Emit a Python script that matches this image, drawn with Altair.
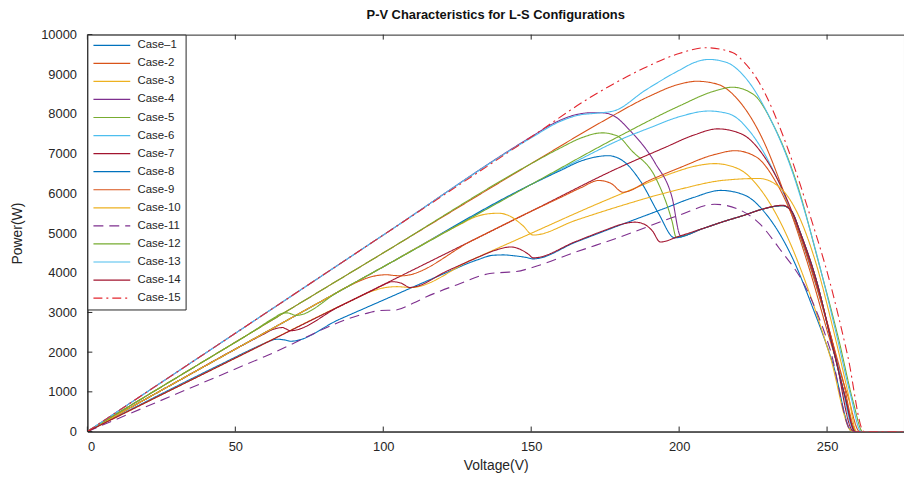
import altair as alt
import pandas as pd

CASES = [f"Case-{i}" for i in range(1, 16)]
CASES[0] = "Case\u20131"
COLORS = ["#0072BD", "#D95319", "#EDB120", "#7E2F8E", "#77AC30", "#4DBEEE", "#A2142F",
          "#0072BD", "#D95319", "#EDB120", "#7E2F8E", "#77AC30", "#4DBEEE", "#A2142F", "#E3262E"]
DASHES = [[1, 0]] * 10 + [[10, 6]] + [[1, 0]] * 3 + [[9, 4, 2, 4]]

X_TICKS = [0, 50, 100, 150, 200, 250]
Y_TICKS = [0, 1000, 2000, 3000, 4000, 5000, 6000, 7000, 8000, 9000, 10000]

C1_V = [0, 45, 58, 61, 64, 66.5, 68.8, 85, 100, 120, 132, 137, 140.6, 144, 148, 150.7, 165, 180, 195, 205, 214, 222, 230, 238, 245, 252, 258.5, 276]
C1_P = [0, 1690, 2160, 2260, 2325, 2310, 2275, 2820, 3310, 3960, 4330, 4440, 4450, 4430, 4390, 4350, 4770, 5200, 5620, 5900, 6075, 5960, 5420, 4420, 3150, 1700, 0, 0]

C2_V = [0, 50, 100, 150, 175, 190, 200, 206, 213, 220, 228, 236, 244, 251, 257, 261, 276]
C2_P = [0, 2250, 4500, 6750, 7850, 8450, 8750, 8825, 8750, 8350, 7400, 5900, 4100, 2300, 900, 0, 0]

C3_V = [0, 50, 88, 96, 101, 104.7, 107, 109, 130, 150, 170, 185, 198, 205, 212, 220, 228, 236, 244, 251, 258.5, 276]
C3_P = [0, 1850, 3255, 3530, 3630, 3650, 3640, 3625, 4330, 4995, 5660, 6130, 6520, 6680, 6750, 6620, 6050, 5000, 3500, 1900, 0, 0]

C4_V = [0, 50, 100, 150, 158, 164, 170, 174, 178, 183.5, 192, 197.6, 200.5, 208, 215, 222, 228, 235, 238, 241, 246.6, 252, 256, 259.5, 276]
C4_P = [0, 2475, 4950, 7425, 7780, 7960, 8030, 8030, 7950, 7575, 6750, 5900, 4930, 5110, 5290, 5450, 5600, 5690, 5550, 5000, 3750, 2100, 900, 0, 0]

C5_V = [0, 50, 100, 150, 160, 167, 174, 179, 184, 192, 197.6, 199, 208, 215, 222, 228, 235, 238, 241, 246.6, 252, 256, 259.5, 276]
C5_P = [0, 2250, 4500, 6750, 7150, 7400, 7525, 7450, 7075, 6400, 5300, 4900, 5115, 5290, 5450, 5600, 5690, 5550, 5000, 3750, 2100, 900, 0, 0]

C6_V = [0, 50, 100, 150, 165, 180, 190, 200, 210, 217, 224, 232, 240, 247, 253, 259.5, 276]
C6_P = [0, 2075, 4150, 6225, 6800, 7350, 7650, 7930, 8075, 8000, 7550, 6550, 5100, 3500, 1900, 0, 0]

C7_V = [0, 30, 52, 59, 63, 66, 67, 68.5, 85, 100, 150, 180, 195, 205, 213, 221, 229, 237, 245, 252, 259, 276]
C7_P = [0, 1245, 2158, 2430, 2580, 2620, 2590, 2540, 3145, 3700, 5550, 6660, 7150, 7470, 7625, 7500, 6900, 5750, 4050, 2200, 0, 0]

C8_V = [0, 50, 100, 150, 160, 167, 172, 176, 181, 187, 193, 198.5, 208, 215, 222, 228, 235, 238, 241, 246.6, 252, 256, 259.5, 276]
C8_P = [0, 2075, 4150, 6225, 6580, 6820, 6920, 6950, 6820, 6300, 5500, 4880, 5115, 5290, 5450, 5600, 5690, 5550, 5000, 3750, 2100, 900, 0, 0]

C9_V = [0, 50, 80, 90, 96, 101, 104, 106, 130, 150, 160, 167, 172.8, 177, 181, 190, 200, 212, 219, 226, 233, 241, 249, 255, 260, 276]
C9_P = [0, 2075, 3320, 3725, 3900, 3950, 3930, 3922, 4810, 5550, 5900, 6150, 6325, 6250, 6030, 6330, 6640, 6980, 7075, 6920, 6250, 4900, 3000, 1400, 0, 0]

C10_V = [0, 50, 100, 125, 132, 136, 139, 143, 147, 150.7, 165, 180, 200, 215, 227, 234, 240, 246, 252, 257, 260, 276]
C10_P = [0, 2075, 4150, 5180, 5430, 5490, 5500, 5420, 5200, 4950, 5320, 5680, 6100, 6330, 6375, 6150, 5500, 4300, 2600, 1000, 0, 0]

C11_V = [0, 30, 60, 95, 99, 104, 110, 114.8, 125, 136, 141, 145, 150, 165, 180, 200, 212, 220, 227, 234, 243, 251, 258.4, 276]
C11_P = [0, 945, 1890, 2990, 3050, 3060, 3230, 3400, 3700, 3980, 4010, 4030, 4125, 4520, 4900, 5450, 5725, 5600, 5250, 4600, 3600, 2075, 0, 0]

C12_V = [0, 40, 55, 63, 66, 67.5, 69, 70.5, 85, 100, 150, 180, 200, 212, 218, 225, 232, 240, 247, 254, 259, 262, 276]
C12_P = [0, 1800, 2475, 2860, 2980, 2990, 2960, 2925, 3530, 4150, 6225, 7450, 8200, 8580, 8675, 8500, 7700, 6200, 4300, 2300, 700, 0, 0]

C13_V = [0, 50, 100, 150, 160, 166, 172, 178, 188.6, 200, 206, 210, 216, 222, 230, 238, 246, 253, 258, 261.5, 276]
C13_P = [0, 2475, 4950, 7400, 7820, 7970, 8020, 8080, 8600, 9100, 9320, 9375, 9300, 8950, 8000, 6600, 4600, 2500, 900, 0, 0]

C14_V = [0, 50, 88, 97, 100, 103, 106, 109, 122, 132, 138, 143, 146, 149, 150.7, 165, 175, 181, 185, 188, 191, 193.6, 200, 208, 215, 222, 228, 235, 238, 241, 246.6, 252, 256, 259.5, 276]
C14_P = [0, 1850, 3255, 3580, 3690, 3775, 3740, 3630, 4060, 4390, 4570, 4650, 4600, 4470, 4375, 4785, 5075, 5230, 5275, 5230, 5050, 4775, 4920, 5115, 5290, 5450, 5600, 5700, 5550, 5000, 3750, 2100, 900, 0, 0]

C15_V = [0, 50, 100, 150, 170, 188, 200, 209, 218, 222, 227, 237, 244, 251, 257, 262.5, 276]
C15_P = [0, 2475, 4950, 7420, 8420, 9150, 9525, 9670, 9550, 9300, 8800, 7075, 5500, 3750, 1900, 0, 0]

SERIES = [(C1_V, C1_P), (C2_V, C2_P), (C3_V, C3_P), (C4_V, C4_P), (C5_V, C5_P),
          (C6_V, C6_P), (C7_V, C7_P), (C8_V, C8_P), (C9_V, C9_P), (C10_V, C10_P),
          (C11_V, C11_P), (C12_V, C12_P), (C13_V, C13_P), (C14_V, C14_P), (C15_V, C15_P)]

FONT = "Liberation Sans"
AX = "#262626"
W, H = 823, 400

xs = alt.Scale(domain=[0, 276], nice=False, zero=False)
ys = alt.Scale(domain=[0, 10000], nice=False)
cscale = alt.Scale(domain=CASES, range=COLORS)
dscale = alt.Scale(domain=CASES, range=DASHES)

X_AXIS = alt.Axis(values=X_TICKS, title="Voltage(V)", grid=False, ticks=False,
                  labelPadding=9, titlePadding=5, labelOverlap=False)
Y_AXIS = alt.Axis(values=Y_TICKS, title="Power(W)", grid=False, format="d", ticks=False,
                  labelPadding=11, titlePadding=16, labelOverlap=False)

layers = []
for name, (v, p) in zip(CASES, SERIES):
    df = pd.DataFrame({"V": v, "P": p, "case": name})
    layers.append(
        alt.Chart(df).mark_line(interpolate="monotone", strokeWidth=1.1, clip=True).encode(
            x=alt.X("V:Q", scale=xs, axis=X_AXIS),
            y=alt.Y("P:Q", scale=ys, axis=Y_AXIS),
            color=alt.Color("case:N", scale=cscale, title=None,
                            legend=alt.Legend(orient="none", legendX=0, legendY=0,
                                              symbolType="M-1,0H7", symbolSize=86, symbolStrokeWidth=1.2,
                                              labelFontSize=11.5, labelFont=FONT, labelColor=AX,
                                              fillColor="white", strokeColor=AX, padding=5,
                                              rowPadding=5.2, labelOffset=34)),
            strokeDash=alt.StrokeDash("case:N", scale=dscale, title=None),
        )
    )

xt = pd.DataFrame({"V": X_TICKS})
yt = pd.DataFrame({"P": Y_TICKS})
tick_bottom = alt.Chart(xt).mark_rule(color=AX, strokeWidth=1).encode(
    x=alt.X("V:Q", scale=xs, axis=X_AXIS), y=alt.value(H), y2=alt.value(H - 5))
tick_top = alt.Chart(xt).mark_rule(color=AX, strokeWidth=1).encode(
    x=alt.X("V:Q", scale=xs, axis=X_AXIS), y=alt.value(0), y2=alt.value(5))
tick_left = alt.Chart(yt).mark_rule(color=AX, strokeWidth=1).encode(
    y=alt.Y("P:Q", scale=ys, axis=Y_AXIS), x=alt.value(0), x2=alt.value(5))

chart = alt.layer(*layers, tick_bottom, tick_top, tick_left).properties(
    width=W, height=H,
    background="white",
    title=alt.TitleParams("P-V Characteristics for L-S Configurations", font=FONT, fontSize=13,
                          fontWeight="bold", color="#111111", anchor="middle", offset=7),
    autosize=alt.AutoSizeParams(type="none"),
    padding={"left": 80, "top": 25, "right": 0, "bottom": 44},
).configure_view(stroke=AX, strokeWidth=1).configure_axis(
    domainColor=AX, labelColor=AX, titleColor=AX, labelFont=FONT, titleFont=FONT,
    labelFontSize=13, titleFontSize=14, titleFontWeight="normal"
)

chart.save("out.html", embed_options={"renderer": "svg", "actions": False})
